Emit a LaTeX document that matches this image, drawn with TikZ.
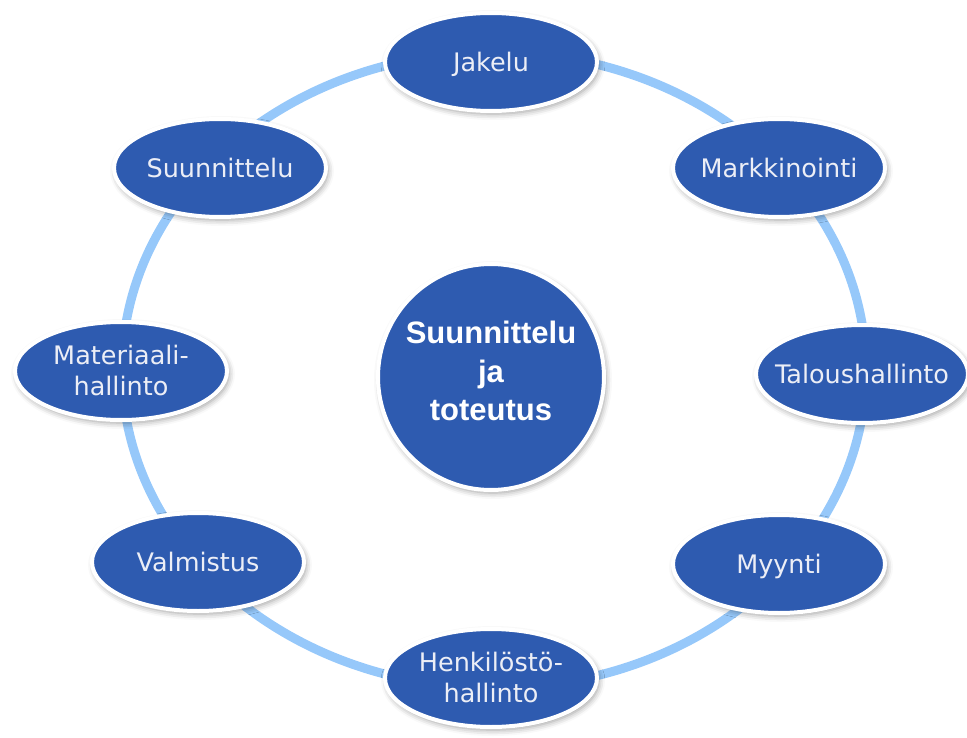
\documentclass[tikz,border=0pt]{standalone}
\usepackage{fontspec}
\setmainfont{DejaVu Sans}
\newfontfamily\hubfont{Liberation Sans}
\usetikzlibrary{shapes.geometric,shadows.blur}
\definecolor{nodeblue}{RGB}{46,91,176}
\definecolor{ringblue}{RGB}{150,200,250}
\definecolor{labelwhite}{RGB}{236,238,246}
\begin{document}
\begin{tikzpicture}[x=1pt,y=-1pt,
  softshadow/.style={blur shadow={shadow xshift=2pt, shadow yshift=-3pt,
      shadow blur radius=6pt, shadow opacity=40}},
  bubble/.style={ellipse, draw=white, line width=4pt, fill=nodeblue,
      minimum width=212pt, minimum height=98pt, inner sep=0pt, softshadow},
  bubbletext/.style={text=labelwhite, align=center, inner sep=0pt,
      font=\fontsize{25.5}{31}\selectfont, text height=18.6pt, text depth=0pt},
  twolines/.style={text height=49.6pt},
  hub/.style={circle, draw=white, line width=4pt, fill=nodeblue,
      minimum size=226pt, inner sep=0pt, softshadow},
  hubtext/.style={text=white, align=center, inner sep=0pt,
      font=\hubfont\bfseries\fontsize{31}{38.5}\selectfont,
      text height=99.2pt, text depth=0pt},
  ring/.style={draw=ringblue, line width=9pt}
]
\useasboundingbox (0,0) rectangle (967,738);

% the light blue ring that links the departments
\coordinate (ringc) at (494,370);
\draw[ring] (ringc) ellipse (372pt and 318pt);

% centre
\node[hub] (hubc) at (491,377) {};
\node[hubtext] (hubl) at (491,371) {Suunnittelu\\ja\\toteutus};

% departments around the ring
\node[bubble] (jak) at (491,62) {};
\node[bubbletext] at (jak) {Jakelu};
\node[bubble] (mark) at (779,168) {};
\node[bubbletext] at (mark) {Markkinointi};
\node[bubble] (tal) at (862,374) {};
\node[bubbletext] at (tal) {Taloushallinto};
\node[bubble] (myy) at (779,564) {};
\node[bubbletext] at (myy) {Myynti};
\node[bubble] (hen) at (491,678) {};
\node[bubbletext, twolines] at (hen) {Henkilöstö-\\hallinto};
\node[bubble] (val) at (198,562) {};
\node[bubbletext] at (val) {Valmistus};
\node[bubble] (mat) at (121,371) {};
\node[bubbletext, twolines] at (mat) {Materiaali-\\hallinto};
\node[bubble] (suu) at (220,168) {};
\node[bubbletext] at (suu) {Suunnittelu};
\end{tikzpicture}
\end{document}
